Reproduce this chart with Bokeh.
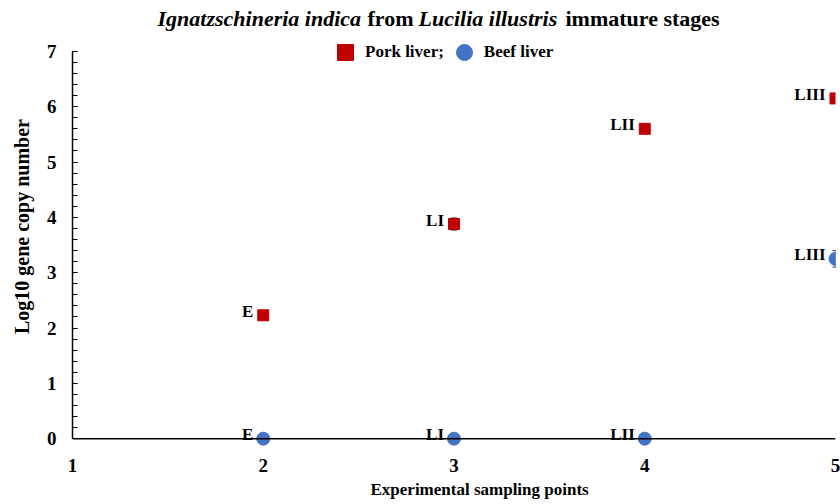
from bokeh.plotting import figure
from bokeh.models import (Range1d, SingleIntervalTicker, FixedTicker, Span, Label, Title,
                          Legend, LegendItem, ColumnDataSource, Whisker)
from bokeh.embed import file_html
from bokeh.resources import INLINE
from bokeh.core.properties import value

# ---------------- data ----------------
stages = ["E", "LI", "LII", "LIII"]
sampling_points = [2, 3, 4, 5]
pork_log10 = [2.23, 3.88, 5.60, 6.15]
beef_log10 = [0.0, 0.0, 0.0, 3.25]
pork_err = [0.0, 0.11, 0.0, 0.0]
beef_err = [0.0, 0.0, 0.0, 0.15]
x_tick_values = [1, 2, 3, 4, 5]
title_parts = ["Ignatzschineria indica", "from", "Lucilia illustris", "immature stages"]
title_styles = ["bold italic", "bold", "bold italic", "bold"]
x_title = "Experimental sampling points"
y_title = "Log10 gene copy number"

FONT = "Liberation Serif"
PORK = "#C00000"
BEEF = "#4472C4"

# frame covers the canvas from the top down to the x tick labels
p = figure(width=840, height=504, output_backend="svg", toolbar_location=None,
           x_range=Range1d(1, 5), y_range=Range1d(-0.25, 7.92),
           min_border_left=72, min_border_right=5, min_border_top=0,
           min_border_bottom=52)
p.outline_line_color = None
p.grid.visible = False
p.background_fill_color = "white"
p.border_fill_color = "white"

# x axis (labels only; axis line at y=0 drawn as a Span)
xa = p.xaxis[0]
xa.ticker = FixedTicker(ticks=x_tick_values)
xa.axis_line_color = None
xa.major_tick_line_color = None
xa.minor_tick_line_color = None
xa.major_label_standoff = 0
xa.major_label_text_font = FONT
xa.major_label_text_font_style = "bold"
xa.major_label_text_font_size = "19px"
xa.major_label_text_color = "black"

p.add_layout(Title(text=x_title, align="left", offset=298, standoff=6,
                   text_font=FONT, text_font_style="bold", text_font_size="17px",
                   text_color="black"), "below")

ya = p.yaxis[0]
ya.ticker = SingleIntervalTicker(interval=1, num_minor_ticks=5)
ya.bounds = (0, 7)
ya.axis_line_color = "black"
ya.axis_line_width = 1.5
ya.major_tick_in = 5
ya.major_tick_out = 0
ya.minor_tick_in = 5
ya.minor_tick_out = 0
ya.major_tick_line_color = "black"
ya.minor_tick_line_color = "black"
ya.major_tick_line_width = 1.2
ya.minor_tick_line_width = 1.2
ya.major_label_standoff = 16
ya.major_label_text_font = FONT
ya.major_label_text_font_style = "bold"
ya.major_label_text_font_size = "19px"
ya.major_label_text_color = "black"
ya.axis_label = y_title
ya.axis_label_text_font = FONT
ya.axis_label_text_font_style = "bold"
ya.axis_label_text_font_size = "20px"
ya.axis_label_text_color = "black"
ya.axis_label_standoff = 11

p.add_layout(Span(location=0, dimension="width", line_color="black", line_width=1.5))

# error bars
wx, wu, wl = [], [], []
for xv, yv, ev in list(zip(sampling_points, pork_log10, pork_err)) + list(zip(sampling_points, beef_log10, beef_err)):
    if ev > 0:
        wx.append(xv); wu.append(yv + ev); wl.append(yv - ev)
wsrc = ColumnDataSource(dict(base=wx, upper=wu, lower=wl))
wh = Whisker(base="base", upper="upper", lower="lower", source=wsrc,
             line_color="#333333", line_width=1.2, level="underlay")
wh.upper_head.size = 6
wh.lower_head.size = 6
wh.upper_head.line_color = "#333333"
wh.lower_head.line_color = "#333333"
p.add_layout(wh)

pork = p.scatter(sampling_points, pork_log10, marker="square", size=11,
                 fill_color=PORK, line_color=PORK)
beef = p.scatter(sampling_points, beef_log10, marker="circle", size=13,
                 fill_color=BEEF, line_color=BEEF)

for ys in (pork_log10, beef_log10):
    p.text(x=sampling_points, y=ys, text=stages, text_align="right",
           text_baseline="middle", x_offset=-10, y_offset=-4,
           text_font=value(FONT), text_font_style="bold",
           text_font_size="17px", text_color="black")

legend = Legend(items=[LegendItem(label="Pork liver;", renderers=[pork]),
                       LegendItem(label="Beef liver", renderers=[beef])],
                orientation="horizontal", location=(253, 380),
                glyph_width=40, glyph_height=40, label_standoff=-3, spacing=-13,
                padding=0, margin=0, background_fill_alpha=0,
                border_line_color=None, label_text_font=FONT,
                label_text_font_style="bold", label_text_font_size="17px",
                label_text_color="black")
p.add_layout(legend)

# chart title: mixed italic / upright parts placed side by side
title_x = [85, 295, 346, 493]
for tx, part, style in zip(title_x, title_parts, title_styles):
    p.add_layout(Label(x=tx, y=434, x_units="screen", y_units="screen", text=part,
                       text_font=FONT, text_font_style=style, text_font_size="22px",
                       text_align="left", text_baseline="middle", text_color="black"))

open("out.html", "w").write(file_html(p, INLINE))
